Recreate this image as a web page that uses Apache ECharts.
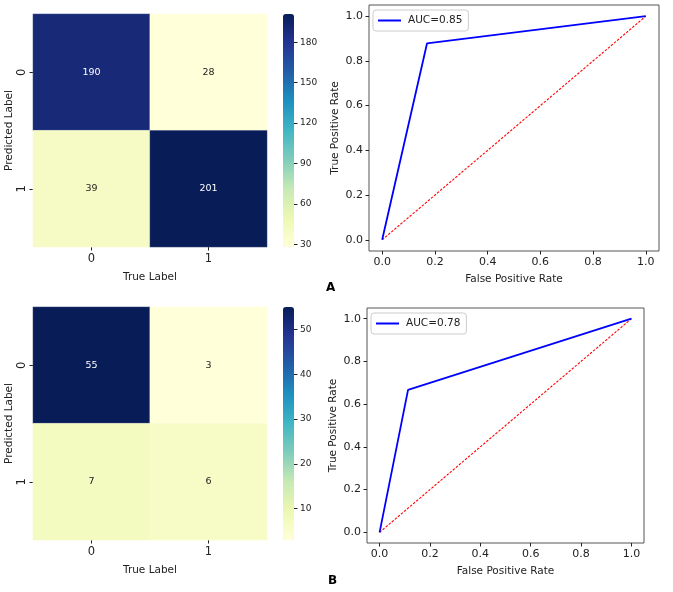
<!DOCTYPE html>
<html>
<head>
<meta charset="utf-8">
<script src="https://cdn.jsdelivr.net/npm/echarts@6/dist/echarts.min.js"></script>
<style>
html,body{margin:0;padding:0;background:#fff;}
#c{width:673px;height:592px;}
</style>
</head>
<body>
<div id="c"></div>
<script>
// ---- data ----
const categories = ['0', '1'];
// rows: predicted label, columns: true label
const cmA = [[190, 28], [39, 201]];
const cmB = [[55, 3], [7, 6]];
const cbTicksA = [30, 60, 90, 120, 150, 180];
const cbTicksB = [10, 20, 30, 40, 50];
const rocFprA = [0, 0.170, 1];
const rocTprA = [0, 0.878, 1];
const rocFprB = [0, 0.113, 1];
const rocTprB = [0, 0.667, 1];
const diagX = [0, 1];
const diagY = [0, 1];
const rocTicks = [0, 0.2, 0.4, 0.6, 0.8, 1.0];
const aucLabels = ['AUC=0.85', 'AUC=0.78'];
const panelLabels = ['A', 'B'];

const YlGnBu = ['#ffffd9','#edf8b1','#c7e9b4','#7fcdbb','#41b6c4','#1d91c0','#225ea8','#253494','#081d58'];
const FONT = 'DejaVu Sans';
const TXT = '#222222';

function cmMin(m){ return Math.min(...m.flat()); }
function cmMax(m){ return Math.max(...m.flat()); }
function heatData(m){
  const lo = cmMin(m), hi = cmMax(m);
  const out = [];
  m.forEach((row, r) => row.forEach((v, c) => {
    const t = (v - lo) / (hi - lo);
    out.push({ value: [c, r, v], label: { color: t > 0.5 ? '#ffffff' : TXT } });
  }));
  return out;
}
function pairs(xs, ys){ return xs.map((x, i) => [x, ys[i]]); }

const heatGrids = [
  { left: 33, top: 14, width: 234, height: 233 },
  { left: 33, top: 307, width: 234, height: 233 }
];
const cbGrids = [
  { left: 283, top: 14, width: 11, height: 233 },
  { left: 283, top: 307, width: 11, height: 233 }
];
const rocGrids = [
  { left: 369, top: 5, width: 290, height: 246 },
  { left: 367, top: 308, width: 277, height: 235 }
];
const cms = [cmA, cmB];
const cbTicks = [cbTicksA, cbTicksB];
const rocs = [[rocFprA, rocTprA], [rocFprB, rocTprB]];

const grid = [], xAxis = [], yAxis = [], series = [], visualMap = [], legend = [], graphic = [];

for (let p = 0; p < 2; p++) {
  // heatmap grid
  const gH = grid.length;
  grid.push(Object.assign({ containLabel: false }, heatGrids[p]));
  xAxis.push({
    type: 'category', gridIndex: gH, data: categories, position: 'bottom',
    axisLine: { show: false, onZero: false },
    axisTick: { show: true, alignWithLabel: true, length: 3.5, lineStyle: { color: TXT } },
    axisLabel: { color: TXT, fontSize: 11.5, fontFamily: FONT, margin: 6 },
    splitLine: { show: false },
    name: 'True Label', nameLocation: 'middle', nameGap: 25,
    nameTextStyle: { color: TXT, fontSize: 10.5, fontFamily: FONT }
  });
  yAxis.push({
    type: 'category', gridIndex: gH, data: categories, inverse: true,
    axisLine: { show: false, onZero: false },
    axisTick: { show: true, alignWithLabel: true, length: 3.5, lineStyle: { color: TXT } },
    axisLabel: { color: TXT, fontSize: 11.5, fontFamily: FONT, rotate: 90, margin: 5 },
    splitLine: { show: false },
    name: 'Predicted Label', nameLocation: 'middle', nameGap: 14,
    nameTextStyle: { color: TXT, fontSize: 10.5, fontFamily: FONT }
  });
  const sHeat = series.length;
  series.push({
    type: 'heatmap', xAxisIndex: gH, yAxisIndex: gH,
    data: heatData(cms[p]),
    label: { show: true, fontSize: 9.5, fontFamily: FONT },
    itemStyle: { borderWidth: 0.5, borderColor: 'rgba(255,255,255,0.35)' },
    emphasis: { disabled: true }
  });
  visualMap.push({
    type: 'continuous', seriesIndex: sHeat, dimension: 2,
    min: cmMin(cms[p]), max: cmMax(cms[p]),
    calculable: false, orient: 'vertical',
    left: cbGrids[p].left, top: cbGrids[p].top,
    itemWidth: cbGrids[p].width, itemHeight: cbGrids[p].height,
    padding: 0, text: null, showLabel: false,
    inRange: { color: YlGnBu }, hoverLink: false
  });
  // colorbar axis grid
  const gC = grid.length;
  grid.push(Object.assign({ containLabel: false }, cbGrids[p]));
  xAxis.push({ type: 'value', gridIndex: gC, show: false, min: 0, max: 1 });
  yAxis.push({
    type: 'value', gridIndex: gC, position: 'right',
    min: cmMin(cms[p]), max: cmMax(cms[p]),
    axisLine: { show: false, onZero: false },
    axisTick: { show: true, length: 3.5, customValues: cbTicks[p], lineStyle: { color: TXT } },
    axisLabel: { show: true, customValues: cbTicks[p], color: TXT, fontSize: 9, fontFamily: FONT, margin: 6 },
    splitLine: { show: false }
  });
  series.push({ type: 'line', xAxisIndex: gC, yAxisIndex: gC, data: [], silent: true });

  // ROC grid
  const gR = grid.length;
  grid.push(Object.assign({ containLabel: false, show: true, borderColor: '#555', borderWidth: 1, backgroundColor: '#fff' }, rocGrids[p]));
  xAxis.push({
    type: 'value', gridIndex: gR, min: -0.05, max: 1.05,
    axisLine: { show: false, onZero: false },
    axisTick: { show: true, length: 3.5, customValues: rocTicks, lineStyle: { color: TXT } },
    axisLabel: { show: true, customValues: rocTicks, color: TXT, fontSize: 11, fontFamily: FONT, margin: 6,
      formatter: v => v.toFixed(1) },
    splitLine: { show: false },
    name: 'False Positive Rate', nameLocation: 'middle', nameGap: 23,
    nameTextStyle: { color: TXT, fontSize: 10.5, fontFamily: FONT }
  });
  yAxis.push({
    type: 'value', gridIndex: gR, min: -0.05, max: 1.05,
    axisLine: { show: false, onZero: false },
    axisTick: { show: true, length: 3.5, customValues: rocTicks, lineStyle: { color: TXT } },
    axisLabel: { show: true, customValues: rocTicks, color: TXT, fontSize: 11, fontFamily: FONT, margin: 6,
      formatter: v => v.toFixed(1) },
    splitLine: { show: false },
    name: 'True Positive Rate', nameLocation: 'middle', nameGap: 28,
    nameTextStyle: { color: TXT, fontSize: 10.5, fontFamily: FONT }
  });
  series.push({
    type: 'line', xAxisIndex: gR, yAxisIndex: gR, name: 'diag' + p,
    data: pairs(diagX, diagY), symbol: 'none', silent: true,
    lineStyle: { color: '#ff0000', width: 1.1, type: [2.5, 1.5] }, z: 2
  });
  series.push({
    type: 'line', xAxisIndex: gR, yAxisIndex: gR, name: aucLabels[p],
    data: pairs(rocs[p][0], rocs[p][1]), symbol: 'none', silent: true,
    lineStyle: { color: '#0000ff', width: 1.8 }, itemStyle: { color: '#0000ff' }, z: 3
  });
  legend.push({
    data: [{ name: aucLabels[p], icon: 'rect' }],
    left: rocGrids[p].left + 4, top: rocGrids[p].top + 5,
    padding: [5, 6, 5, 5], itemWidth: 23, itemHeight: 2, itemGap: 5,
    backgroundColor: '#fff', borderColor: '#cccccc', borderWidth: 1, borderRadius: 3,
    itemStyle: { color: '#0000ff' },
    textStyle: { color: TXT, fontSize: 10.5, fontFamily: FONT, padding: [0, 0, 0, 2] },
    selectedMode: false
  });
  graphic.push({
    type: 'text', left: p === 0 ? 326 : 328, top: p === 0 ? 282 : 575,
    style: { text: panelLabels[p], font: 'bold 12px "DejaVu Sans"', fill: '#000' }
  });
}

const chart = echarts.init(document.getElementById('c'), null, { renderer: 'canvas' });
chart.setOption({
  animation: false,
  backgroundColor: '#ffffff',
  textStyle: { fontFamily: FONT },
  grid, xAxis, yAxis, series, visualMap, legend, graphic
});
</script>
</body>
</html>
